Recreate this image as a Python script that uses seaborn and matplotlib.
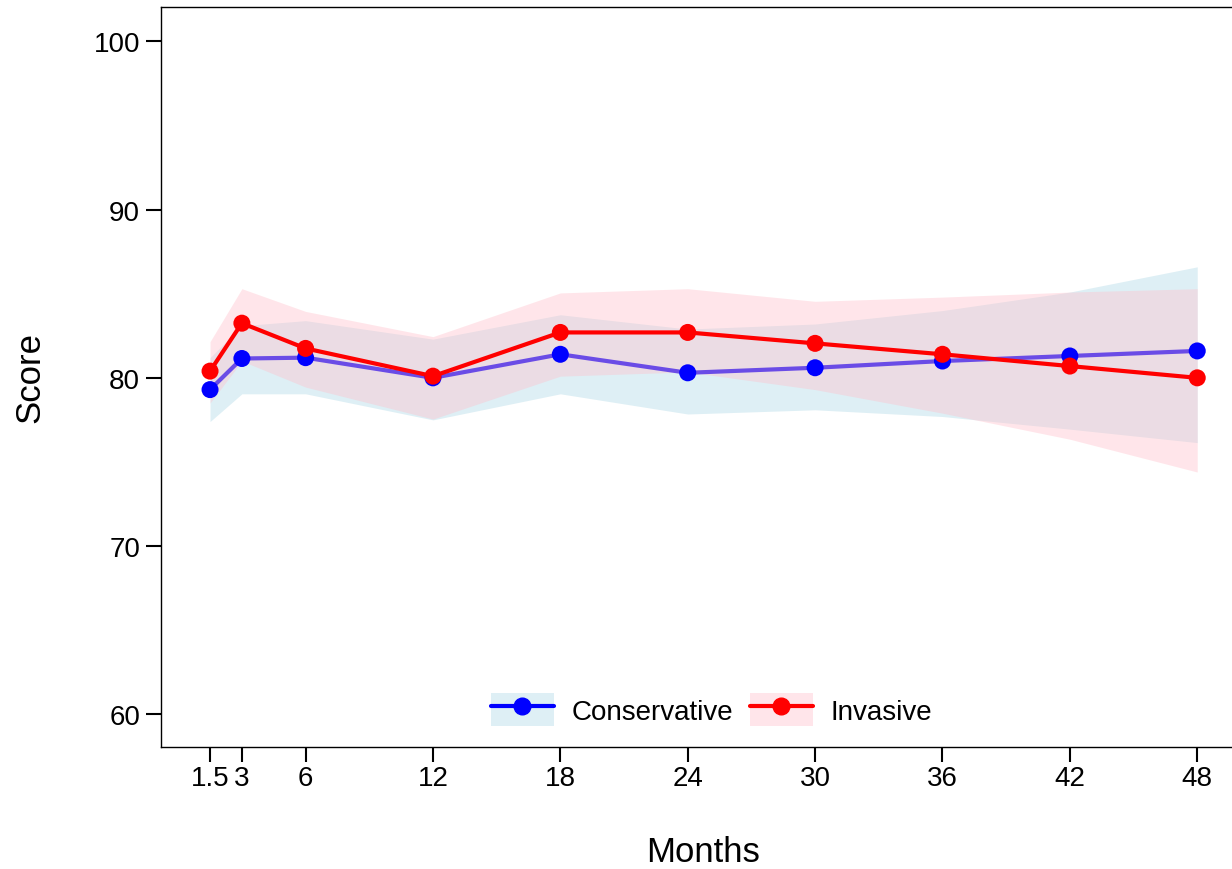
import pandas as pd
import matplotlib.pyplot as plt
import seaborn as sns
from matplotlib.patches import Patch
from matplotlib.lines import Line2D
from matplotlib.legend_handler import HandlerTuple

months = [1.5, 3, 6, 12, 18, 24, 30, 36, 42, 48]
tick_labels = ["1.5", "3", "6", "12", "18", "24", "30", "36", "42", "48"]

cons_mean = [79.3, 81.15, 81.2, 80.0, 81.4, 80.3, 80.6, 81.0, 81.3, 81.6]
cons_low = [77.4, 79.05, 79.05, 77.5, 79.05, 77.85, 78.1, 77.7, 76.95, 76.15]
cons_high = [81.2, 83.1, 83.4, 82.3, 83.75, 82.9, 83.2, 84.0, 85.1, 86.6]

inv_mean = [80.4, 83.25, 81.75, 80.1, 82.7, 82.7, 82.05, 81.4, 80.7, 80.0]
inv_low = [78.5, 81.0, 79.45, 77.55, 80.1, 80.35, 79.3, 77.9, 76.35, 74.4]
inv_high = [82.15, 85.3, 83.95, 82.45, 85.05, 85.3, 84.55, 84.8, 85.1, 85.3]

df = pd.concat([
    pd.DataFrame({"Months": months, "Score": cons_mean, "Group": "Conservative"}),
    pd.DataFrame({"Months": months, "Score": inv_mean, "Group": "Invasive"}),
])

sns.set_theme(style="ticks")
plt.rcParams["font.family"] = ["Liberation Sans", "DejaVu Sans"]
plt.rcParams["text.color"] = "black"

band_blue = "#ADD8E6"
band_pink = "#FFC0CB"
line_colors = {"Conservative": "#6A4CE6", "Invasive": "#FF0000"}
marker_colors = {"Conservative": "#0000FF", "Invasive": "#FF0000"}

fig = plt.figure(figsize=(12.32, 8.7), dpi=100)
ax = fig.add_axes([161 / 1232, 122 / 870, (1245 - 161) / 1232, 740 / 870])

# confidence bands
ax.fill_between(months, cons_low, cons_high, color=band_blue, alpha=0.4, lw=0)
ax.fill_between(months, inv_low, inv_high, color=band_pink, alpha=0.4, lw=0)

for grp in ["Conservative", "Invasive"]:
    sub = df[df["Group"] == grp]
    sns.lineplot(data=sub, x="Months", y="Score", color=line_colors[grp],
                 lw=3, ax=ax, legend=False)
    sns.scatterplot(data=sub, x="Months", y="Score", color=marker_colors[grp],
                    s=150, edgecolor="none", ax=ax, legend=False, zorder=3)

ax.set_xlim(-0.81, 50.25)
ax.set_ylim(58.05, 102.05)
ax.set_xticks(months)
ax.set_xticklabels(tick_labels)
ax.set_yticks([60, 70, 80, 90, 100])
ax.tick_params(axis="both", labelsize=20, length=11, width=1.5, color="black",
               labelcolor="black")
ax.tick_params(axis="x", pad=2)
ax.tick_params(axis="y", pad=4)
for sp in ax.spines.values():
    sp.set_color("black")
    sp.set_linewidth(1.0)

ax.set_xlabel("Months", fontsize=25, labelpad=32, color="black")
ax.set_ylabel("Score", fontsize=25, labelpad=34, color="black")

handles = [
    (Patch(facecolor=band_blue, alpha=0.4, edgecolor="none"),
     Line2D([], [], color="#0000FF", marker="o", lw=3, ms=12)),
    (Patch(facecolor=band_pink, alpha=0.4, edgecolor="none"),
     Line2D([], [], color="#FF0000", marker="o", lw=3, ms=12)),
]
ax.legend(handles, ["Conservative", "Invasive"],
          handler_map={tuple: HandlerTuple(ndivide=1)},
          loc="lower center", bbox_to_anchor=(0.508, -0.006), ncol=2,
          frameon=False, fontsize=20, handlelength=2.25, handleheight=1.45,
          columnspacing=0.6, handletextpad=0.65, labelcolor="black")

plt.savefig("out.png", dpi=100)
plt.close()
